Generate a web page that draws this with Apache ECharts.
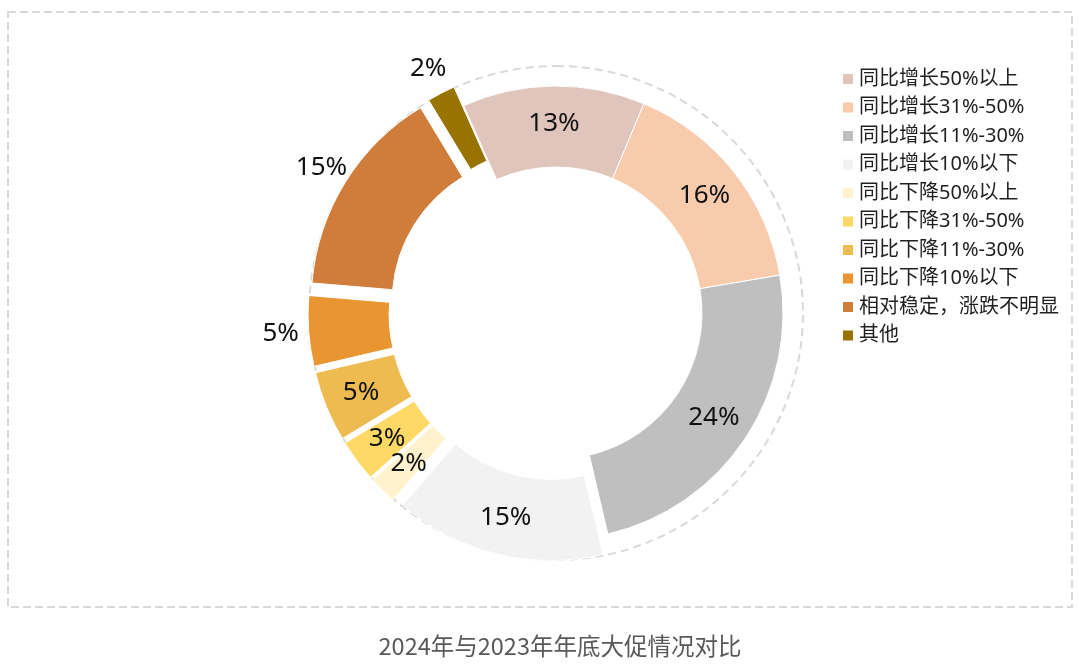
<!DOCTYPE html>
<html><head><meta charset="utf-8">
<script src="https://cdn.jsdelivr.net/npm/echarts@6/dist/echarts.min.js"></script>
<style>html,body{margin:0;padding:0;background:#fff}#c{width:1080px;height:666px}</style>
</head><body><div id="c"></div>
<script>
const categories = ['同比增长50%以上','同比增长31%-50%','同比增长11%-30%','同比增长10%以下','同比下降50%以上','同比下降31%-50%','同比下降11%-30%','同比下降10%以下','相对稳定，涨跌不明显','其他'];
const shares = [13,16,24,15,2,3,5,5,15,2];
const colors = ['#E0C5BC','#F8CBAD','#BFBFBF','#F2F2F2','#FFF2CC','#FFD966','#EDBB50','#E99532','#D07C3A','#997300'];
const exploded = [false,false,false,true,true,true,true,true,true,true];
const outsideLabel = [false,false,false,false,false,false,false,true,true,true];
const titleText = '2024年与2023年年底大促情况对比';

const chart = echarts.init(document.getElementById('c'), null, {renderer:'canvas'});
const CENTER = [556, 313];
const labelFont = {fontFamily:'Noto Sans, Noto Sans CJK SC, sans-serif', fontSize:26, color:'#111'};

const mainData = categories.map((n,i)=>({
  name:n, value:shares[i], selected:exploded[i],
  itemStyle:{color:colors[i]},
  label:{show:!outsideLabel[i]}
}));
const outerLabelData = categories.map((n,i)=>({
  name:n, value:shares[i],
  label:{show:outsideLabel[i]}
}));

chart.setOption({
  animation:false,
  backgroundColor:'#fff',
  title:{text:titleText, left:555, textAlign:'center', top:629,
    textStyle:{fontFamily:'Noto Sans CJK SC', fontSize:23.5, fontWeight:'normal', color:'#595959'}},
  legend:{
    orient:'vertical', left:841, top:69, padding:0, itemGap:8.5,
    itemWidth:12, itemHeight:12, icon:'rect',
    data:categories,
    textStyle:{fontFamily:'Noto Sans, Noto Sans CJK SC, sans-serif', fontSize:20, color:'#1f1f1f'}
  },
  graphic:[{type:'rect', silent:true, z:-1,
    shape:{x:8, y:12, width:1064, height:595},
    style:{fill:null, stroke:'#d9d9d9', lineWidth:2, lineDash:[8,4]}}],
  series:[
    {type:'pie', silent:true, center:CENTER, radius:[0,247], z:1,
     label:{show:false}, labelLine:{show:false}, emphasis:{disabled:true},
     data:[{name:'_ring', value:1, itemStyle:{color:'rgba(0,0,0,0)', borderColor:'#d9d9d9', borderWidth:2, borderType:[8,5]}}]},
    {type:'pie', center:CENTER, radius:[146,227], startAngle:114, clockwise:true,
     selectedMode:'multiple', selectedOffset:21, silent:true, z:2,
     avoidLabelOverlap:false, labelLayout:{hideOverlap:false},
     itemStyle:{borderColor:'#fff', borderWidth:1},
     label:Object.assign({position:'inside', formatter:'{c}%'}, labelFont),
     labelLine:{show:false}, emphasis:{disabled:true}, select:{itemStyle:{borderColor:'#fff', borderWidth:1}},
     data:mainData},
    {type:'pie', center:CENTER, radius:[266,280], startAngle:114, clockwise:true, silent:true, z:3,
     avoidLabelOverlap:false, labelLayout:{hideOverlap:false},
     itemStyle:{color:'rgba(0,0,0,0)'},
     label:Object.assign({position:'inside', formatter:'{c}%'}, labelFont),
     labelLine:{show:false}, emphasis:{disabled:true},
     data:outerLabelData}
  ]
});
</script></body></html>
